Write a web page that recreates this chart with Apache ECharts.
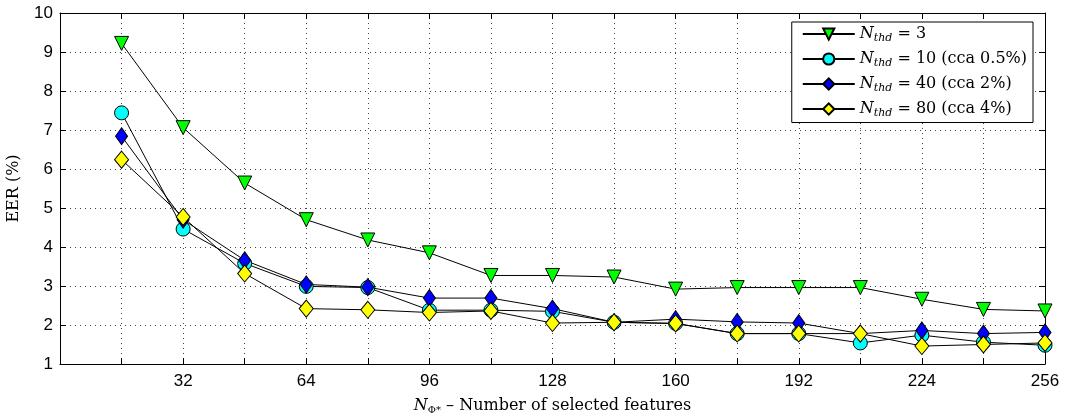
<!DOCTYPE html>
<html>
<head>
<meta charset="utf-8">
<script src="https://cdn.jsdelivr.net/npm/echarts@6/dist/echarts.min.js"></script>
<style>
  html, body { margin: 0; padding: 0; background: #fff; }
  #chart { width: 1068px; height: 416px; }
</style>
</head>
<body>
<div id="chart"></div>
<script>
// number of selected features
const features = [16, 32, 48, 64, 80, 96, 112, 128, 144, 160, 176, 192, 208, 224, 240, 256]

// EER (%) per threshold
const eerThd3 = [9.22, 7.06, 5.64, 4.70, 4.18, 3.85, 3.27, 3.27, 3.23, 2.92, 2.96, 2.96, 2.96, 2.66, 2.40, 2.36]
const eerThd10 = [7.44, 4.46, 3.58, 2.99, 2.96, 2.38, 2.38, 2.35, 2.07, 2.04, 1.78, 1.78, 1.54, 1.74, 1.56, 1.48]
const eerThd40 = [6.84, 4.70, 3.66, 3.04, 2.97, 2.69, 2.69, 2.42, 2.07, 2.15, 2.08, 2.05, 1.78, 1.86, 1.78, 1.81]
const eerThd80 = [6.24, 4.77, 3.32, 2.42, 2.39, 2.32, 2.36, 2.05, 2.07, 2.04, 1.78, 1.78, 1.78, 1.46, 1.50, 1.54]

const seriesNames = ['thd3', 'thd10', 'thd40', 'thd80']
const legendLabels = {
  thd3: ' = 3',
  thd10: ' = 10 (cca 0.5%)',
  thd40: ' = 40 (cca 2%)',
  thd80: ' = 80 (cca 4%)'
}

const serif = '"DejaVu Serif", "Liberation Serif", serif'
const sans = '"Liberation Sans", Arial, sans-serif'

const toPairs = (vals) => features.map((f, i) => [f, vals[i]])

const makeSeries = (name, vals, color, symbol, size, rotate) => ({
  name,
  type: 'line',
  data: toPairs(vals),
  symbol,
  symbolSize: size,
  symbolRotate: rotate || 0,
  lineStyle: { color: '#000', width: 1 },
  itemStyle: { color, borderColor: '#000', borderWidth: 1 },
  emphasis: { disabled: true },
  animation: false
})

const gridLine = { show: true, lineStyle: { color: '#444', type: [1, 4], width: 1 } }
const axisLine = { show: true, onZero: false, lineStyle: { color: '#000', width: 1 } }

const chart = echarts.init(document.getElementById('chart'))
chart.setOption({
  animation: false,
  grid: { left: 60, right: 23, top: 13, bottom: 52, outerBoundsMode: 'none', containLabel: false },
  legend: {
    data: seriesNames,
    orient: 'vertical',
    right: 35,
    top: 22,
    itemWidth: 52,
    itemHeight: 14,
    itemGap: 7.5,
    padding: [4, 6, 4, 10],
    backgroundColor: '#fff',
    borderColor: '#000',
    borderWidth: 1,
    borderRadius: 0,
    formatter: (name) => `{i|N}{s|thd}{r|${legendLabels[name]}}`,
    textStyle: {
      rich: {
        i: { fontFamily: serif, fontStyle: 'italic', fontSize: 16, color: '#000' },
        s: { fontFamily: serif, fontStyle: 'italic', fontSize: 11, color: '#000', verticalAlign: 'bottom', padding: [8, 0, 0, 0] },
        r: { fontFamily: serif, fontSize: 16, color: '#000' }
      }
    }
  },
  xAxis: [
    {
      type: 'value',
      min: 0,
      max: 256,
      interval: 16,
      axisLine,
      axisTick: { show: true, inside: true, length: 6, lineStyle: { color: '#000' } },
      splitLine: gridLine,
      axisLabel: {
        fontFamily: sans,
        fontSize: 17,
        color: '#000',
        margin: 9,
        formatter: (v) => (v > 0 && v % 32 === 0 ? String(v) : '')
      },
      name: '{i|N}{s|Φ*}{r| – Number of selected features}',
      nameLocation: 'middle',
      nameGap: 33,
      nameTextStyle: {
        rich: {
          i: { fontFamily: serif, fontStyle: 'italic', fontSize: 16, color: '#000' },
          s: { fontFamily: serif, fontSize: 10, color: '#000', verticalAlign: 'bottom', padding: [8, 0, 0, 0] },
          r: { fontFamily: serif, fontSize: 16, color: '#000' }
        }
      }
    },
    {
      type: 'value',
      position: 'top',
      min: 0,
      max: 256,
      interval: 16,
      axisLine,
      axisTick: { show: true, inside: true, length: 6, lineStyle: { color: '#000' } },
      axisLabel: { show: false },
      splitLine: { show: false }
    }
  ],
  yAxis: [
    {
      type: 'value',
      min: 1,
      max: 10,
      interval: 1,
      axisLine,
      axisTick: { show: true, inside: true, length: 6, lineStyle: { color: '#000' } },
      splitLine: gridLine,
      axisLabel: { fontFamily: sans, fontSize: 17, color: '#000', margin: 7 },
      name: 'EER (%)',
      nameLocation: 'middle',
      nameGap: 38,
      nameTextStyle: { fontFamily: serif, fontSize: 16, color: '#000' }
    },
    {
      type: 'value',
      position: 'right',
      min: 1,
      max: 10,
      interval: 1,
      axisLine,
      axisTick: { show: true, inside: true, length: 6, lineStyle: { color: '#000' } },
      axisLabel: { show: false },
      splitLine: { show: false }
    }
  ],
  series: [
    makeSeries('thd3', eerThd3, '#00ff00', 'triangle', 14, 180),
    makeSeries('thd10', eerThd10, '#00ffff', 'circle', 14),
    makeSeries('thd40', eerThd40, '#0000ff', 'diamond', [12, 17]),
    makeSeries('thd80', eerThd80, '#ffff00', 'diamond', [14, 17])
  ]
})
</script>
</body>
</html>
